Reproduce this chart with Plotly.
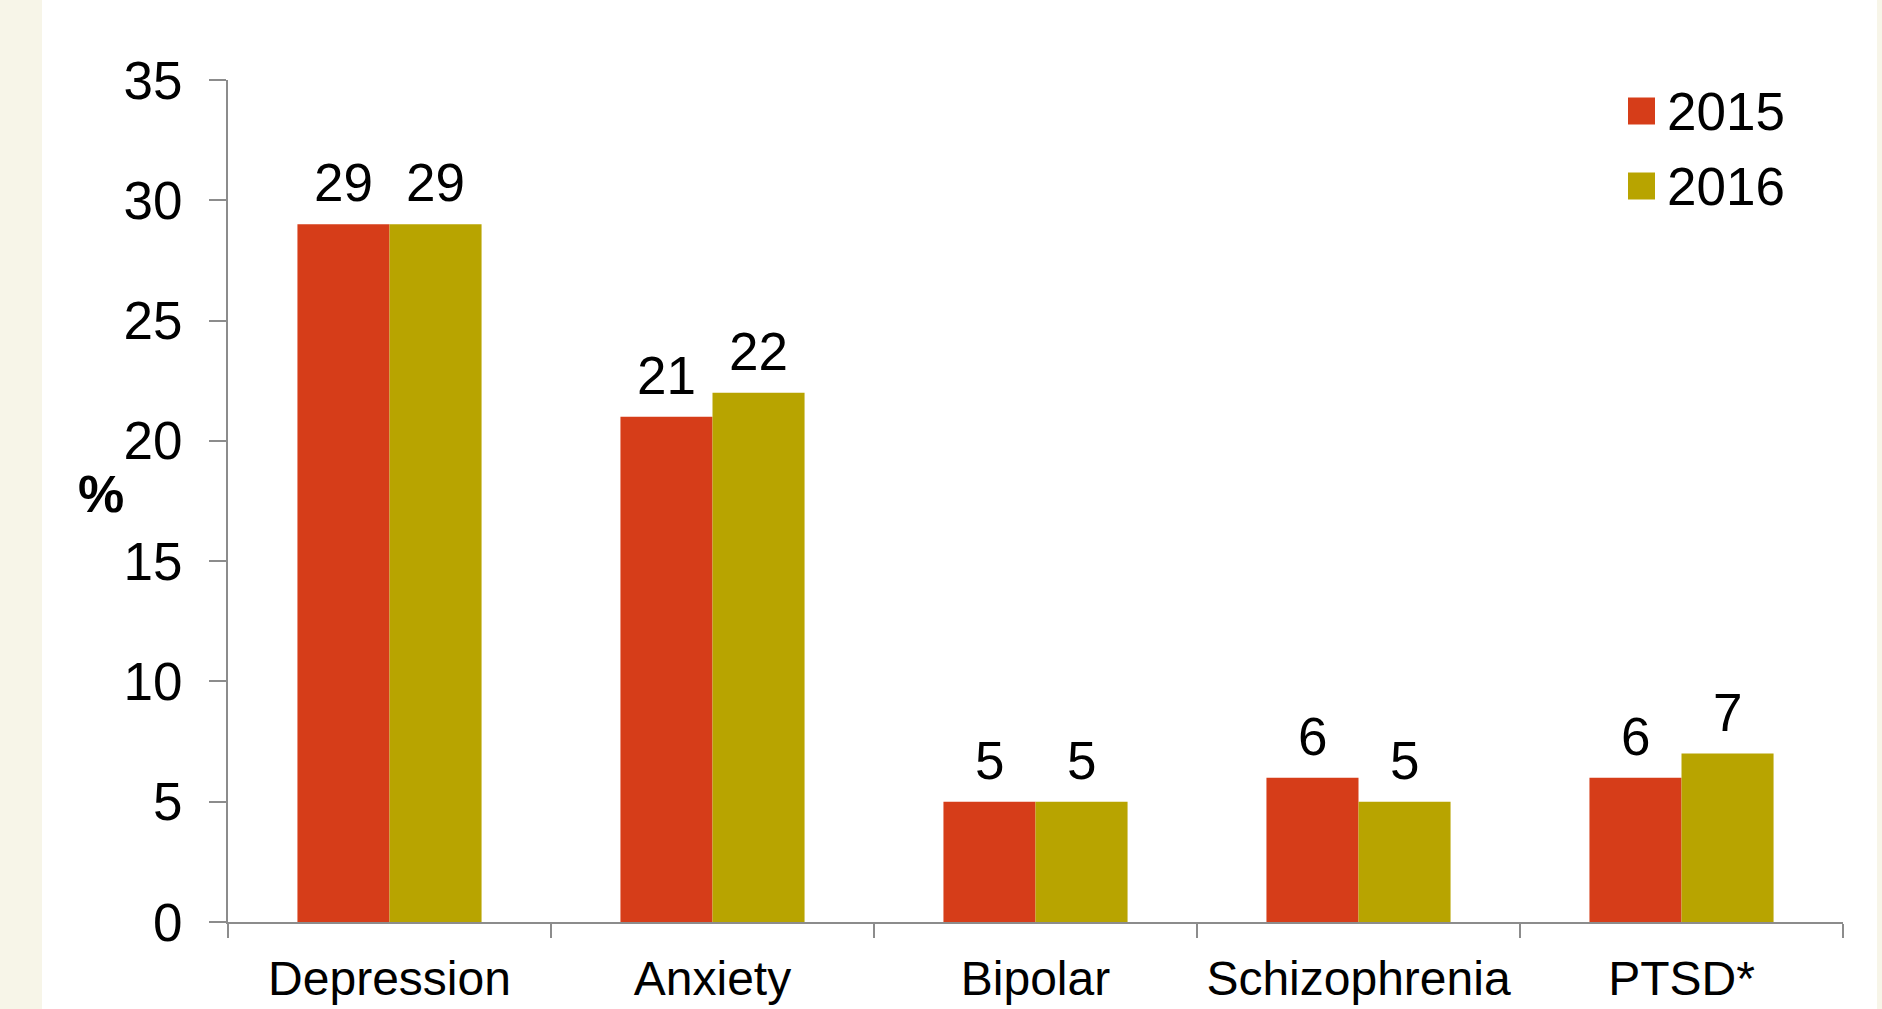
import plotly.graph_objects as go

categories = ["Depression", "Anxiety", "Bipolar", "Schizophrenia", "PTSD*"]
series_names = ["2015", "2016"]
values_2015 = [29, 21, 5, 6, 6]
values_2016 = [29, 22, 5, 5, 7]
series_colors = ["#D63D19", "#B8A400"]
y_ticks = [0, 5, 10, 15, 20, 25, 30, 35]

FONT = "Liberation Sans, Arial, sans-serif"
W, H = 1882, 1009
ML, MR, MT, MB = 228, 39, 80, 87
BARGAP = 0.43

fig = go.Figure()
for name, vals, col in zip(series_names, [values_2015, values_2016], series_colors):
    fig.add_trace(go.Bar(
        x=categories, y=vals, name=name,
        marker=dict(color=col, line=dict(width=0)),
        showlegend=False, hoverinfo="skip",
    ))

# value labels above bars, placed through the data scales
pw, ph = W - ML - MR, H - MT - MB
bar_px = pw / len(categories) * (1 - BARGAP) / 2
for k, vals in enumerate([values_2015, values_2016]):
    shift = (k - 0.5) * bar_px
    for c, v in zip(categories, vals):
        fig.add_annotation(x=c, y=v, text=str(v), showarrow=False,
                           xshift=shift, yshift=10, yanchor="bottom",
                           font=dict(family=FONT, size=53, color="black"))

axis_col = "#8C8C8C"
fig.update_layout(
    width=W, height=H,
    margin=dict(l=ML, r=MR, t=MT, b=MB, pad=0),
    paper_bgcolor="white", plot_bgcolor="white",
    barmode="group", bargap=BARGAP, bargroupgap=0,
    hovermode=False,
    font=dict(family=FONT, size=50, color="black"),
    xaxis=dict(
        automargin=False,
        showline=True, linecolor=axis_col, linewidth=2,
        ticks="outside", ticklen=14, tickwidth=2, tickcolor=axis_col,
        tickson="boundaries", showgrid=False, zeroline=False,
        tickfont=dict(family=FONT, size=48, color="black"),
        ticklabelstandoff=13,
    ),
    yaxis=dict(
        automargin=False,
        range=[0, 35], tickvals=y_ticks,
        showline=True, linecolor=axis_col, linewidth=2,
        ticks="outside", ticklen=17, tickwidth=2, tickcolor=axis_col,
        showgrid=False, zeroline=False,
        tickfont=dict(family=FONT, size=53, color="black"),
        ticklabelstandoff=16,
    ),
)

# side strips
fig.add_shape(type="rect", xref="paper", yref="paper",
              x0=-ML / pw, x1=(42 - ML) / pw, y0=-1, y1=2,
              fillcolor="#F7F5E8", line=dict(width=0), layer="below")
fig.add_shape(type="rect", xref="paper", yref="paper",
              x0=1 + (1877 - (W - MR)) / pw, x1=1 + MR / pw, y0=-1, y1=2,
              fillcolor="#F7F5E8", line=dict(width=0), layer="below")

# y-axis "%" label
fig.add_annotation(text="<b>%</b>", xref="paper", yref="paper",
                   x=(101 - ML) / pw, y=(H - MB - 494) / ph,
                   showarrow=False, font=dict(family=FONT, size=52, color="black"),
                   xanchor="center", yanchor="middle")

# legend
leg_rows = [111, 186]
for name, col, yc in zip(series_names, series_colors, leg_rows):
    fig.add_shape(type="rect", xref="paper", yref="paper",
                  x0=(1628 - ML) / pw, x1=(1655 - ML) / pw,
                  y0=(H - MB - (yc - 13.5)) / ph, y1=(H - MB - (yc + 13.5)) / ph,
                  fillcolor=col, line=dict(width=0))
    fig.add_annotation(text=name, xref="paper", yref="paper",
                       x=(1665 - ML) / pw, y=(H - MB - yc) / ph,
                       showarrow=False, xanchor="left", yanchor="middle",
                       font=dict(family=FONT, size=53, color="black"))

fig.write_html("out.html", config={"displayModeBar": False},
               post_script="document.body.style.margin='0';document.body.style.overflow='hidden';")
